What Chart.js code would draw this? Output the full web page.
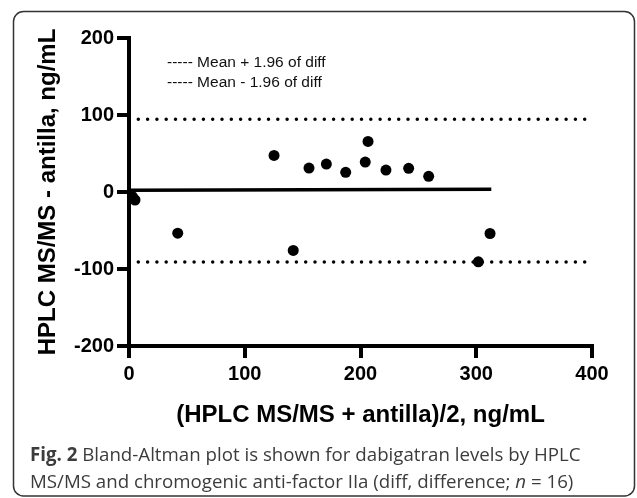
<!DOCTYPE html>
<html>
<head>
<meta charset="utf-8">
<script src="https://cdn.jsdelivr.net/npm/chart.js@4.4.1/dist/chart.umd.min.js"></script>
<style>
html, body { margin: 0; padding: 0; background: #fff; }
#myChart { display: block; }
</style>
</head>
<body>
<canvas id="myChart" width="637" height="498"></canvas>
<script>
// mean of the two methods (x) and their difference (y)
var avgValues = [3, 5.2, 42.1, 125.3, 141.9, 155.5, 170.5, 187.2, 204.1, 206.5, 222, 241.6, 258.9, 301.8, 311.9];
var diffValues = [-6, -10.4, -53.5, 47.5, -75.9, 31.1, 36.3, 25.5, 38.9, 65.7, 28.5, 30.7, 20.3, -90.7, -53.9];

// solid mean line
var meanLineX = [0, 313];
var meanLineY = [2.2, 3.6];

// dotted limits of agreement
var limitLineX = [0, 394];
var upperLimit = 94.5;
var lowerLimit = -91;

var xTicks = [0, 100, 200, 300, 400];
var yTicks = [-200, -100, 0, 100, 200];

var legendLabels = ['----- Mean + 1.96 of diff', '----- Mean - 1.96 of diff'];
var xTitle = '(HPLC MS/MS + antilla)/2, ng/mL';
var yTitle = 'HPLC MS/MS - antilla, ng/mL';

var fontFamily = "'Liberation Sans', Arial, sans-serif";

function toPoints(xs, ys) {
    return xs.map(function (x, i) { return { x: x, y: ys[i] }; });
}

var figurePlugin = {
    id: 'figure',
    afterDraw: function (chart) {
        var c = chart.ctx;
        c.save();

        // rounded frame around the figure
        c.strokeStyle = '#333';
        c.lineWidth = 1.5;
        c.beginPath();
        c.roundRect(13.5, 11.5, 621, 484.5, 10);
        c.stroke();

        // legend text inside the plot
        c.fillStyle = '#111';
        c.font = '15.5px ' + fontFamily;
        c.textBaseline = 'middle';
        c.textAlign = 'left';
        c.fillText(legendLabels[0], 167, 63);
        c.fillText(legendLabels[1], 167, 83);

        // caption
        c.fillStyle = '#3c3c3c';
        c.textBaseline = 'alphabetic';
        var capFont = "'Open Sans', 'Noto Sans', sans-serif";
        var size = '18.7px ';
        var x = 30;
        c.font = 'bold ' + size + capFont;
        c.fillText('Fig. 2', x, 461);
        x += c.measureText('Fig. 2').width;
        c.font = size + capFont;
        c.fillText(' Bland-Altman plot is shown for dabigatran levels by HPLC', x, 461);

        x = 30;
        var part1 = 'MS/MS and chromogenic anti-factor IIa (diff, difference; ';
        c.fillText(part1, x, 488);
        x += c.measureText(part1).width;
        c.font = 'italic ' + size + capFont;
        c.fillText('n', x, 488);
        x += c.measureText('n').width;
        c.font = size + capFont;
        c.fillText(' = 16)', x, 488);

        c.restore();
    }
};

var config = {
    type: 'scatter',
    data: {
        datasets: [
            {
                label: 'diff',
                data: toPoints(avgValues, diffValues),
                backgroundColor: '#000',
                borderWidth: 0,
                pointRadius: 5.5,
                clip: false
            },
            {
                label: 'mean',
                type: 'line',
                data: toPoints(meanLineX, meanLineY),
                borderColor: '#000',
                borderWidth: 3.5,
                pointRadius: 0,
                fill: false
            },
            {
                label: 'upper',
                type: 'line',
                data: toPoints(limitLineX, [upperLimit, upperLimit]),
                borderColor: '#000',
                borderWidth: 3.5,
                borderDash: [0, 9.3],
                borderCapStyle: 'round',
                pointRadius: 0,
                fill: false
            },
            {
                label: 'lower',
                type: 'line',
                data: toPoints(limitLineX, [lowerLimit, lowerLimit]),
                borderColor: '#000',
                borderWidth: 3.5,
                borderDash: [0, 9.3],
                borderCapStyle: 'round',
                pointRadius: 0,
                fill: false
            }
        ]
    },
    options: {
        responsive: false,
        animation: false,
        layout: {
            padding: { left: 0, top: 38, right: 45, bottom: 52 }
        },
        plugins: {
            legend: { display: false },
            tooltip: { enabled: false }
        },
        scales: {
            x: {
                type: 'linear',
                min: 0,
                max: 400,
                afterBuildTicks: function (scale) {
                    scale.ticks = xTicks.map(function (v) { return { value: v }; });
                },
                afterFit: function (scale) { scale.height = 100; },
                border: { display: true, color: '#000', width: 4 },
                grid: { drawOnChartArea: false, drawTicks: true, tickLength: 12, lineWidth: 4, color: '#000' },
                ticks: {
                    color: '#000',
                    padding: 6,
                    font: { family: fontFamily, size: 20, weight: 'bold', lineHeight: 1 }
                },
                title: {
                    display: true,
                    text: xTitle,
                    color: '#000',
                    padding: { top: 0, bottom: 19 },
                    font: { family: fontFamily, size: 24, weight: 'bold', lineHeight: 1 }
                }
            },
            y: {
                type: 'linear',
                min: -200,
                max: 200,
                afterBuildTicks: function (scale) {
                    scale.ticks = yTicks.map(function (v) { return { value: v }; });
                },
                afterFit: function (scale) { scale.width = 129; },
                border: { display: true, color: '#000', width: 4 },
                grid: { drawOnChartArea: false, drawTicks: true, tickLength: 12, lineWidth: 4, color: '#000' },
                ticks: {
                    color: '#000',
                    padding: 3,
                    font: { family: fontFamily, size: 20, weight: 'bold', lineHeight: 1 }
                },
                title: {
                    display: true,
                    text: yTitle,
                    color: '#000',
                    padding: { top: 36, bottom: 0 },
                    font: { family: fontFamily, size: 24, weight: 'bold', lineHeight: 1 }
                }
            }
        }
    },
    plugins: [figurePlugin]
};

var myChart = new Chart(document.getElementById('myChart'), config);
</script>
</body>
</html>
